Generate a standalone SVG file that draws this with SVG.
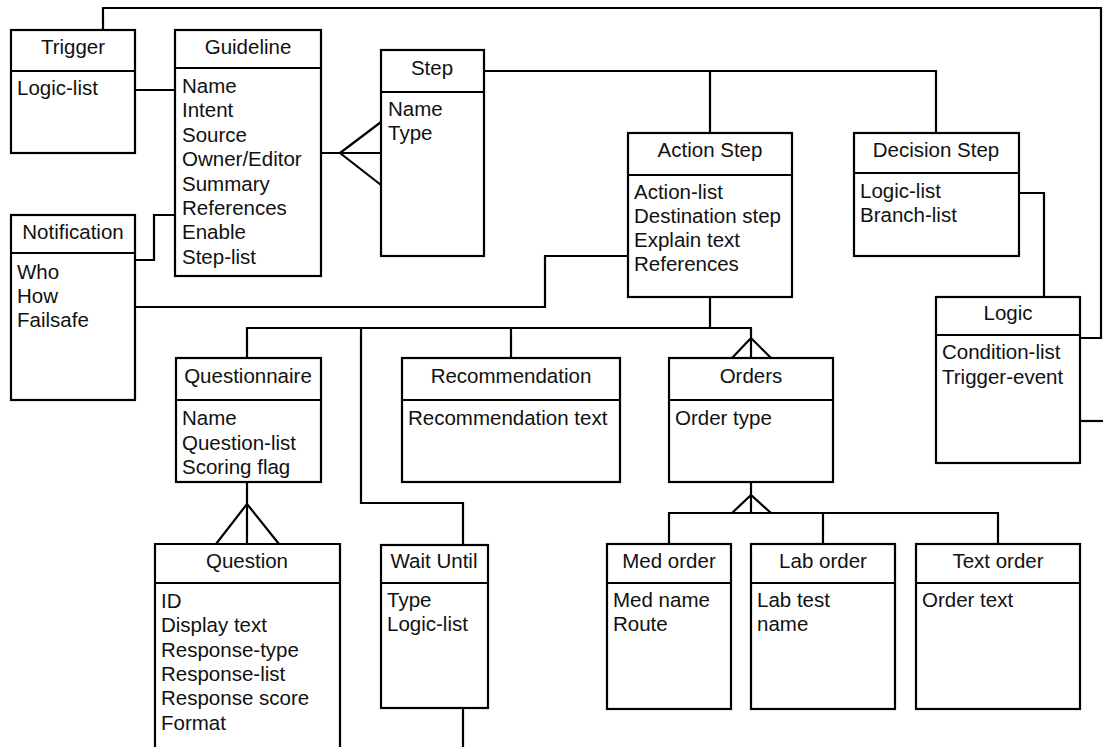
<svg xmlns="http://www.w3.org/2000/svg" width="1103" height="747" viewBox="0 0 1103 747">
<style>
.box{fill:#fff;stroke:#000;stroke-width:2.2}
.div{stroke:#000;stroke-width:2.2}
.c{fill:none;stroke:#000;stroke-width:2.2;stroke-linejoin:miter}
text{font-family:"Liberation Sans",Arial,sans-serif;font-size:20.5px;fill:#111}
.h{text-anchor:middle}
</style>
<rect width="1103" height="747" fill="#fff"/>
<g id="connectors">
<path class="c" d="M103,30 V8 H1101 V338 H1080"/>
<path class="c" d="M135,90 H175"/>
<path class="c" d="M135,260 H154 V215 H175"/>
<path class="c" d="M321,153 H381 M340,153 L381,122 M340,153 L381,185"/>
<path class="c" d="M484,71 H936 V133 M710,71 V133"/>
<path class="c" d="M135,307 H545 V256 H628"/>
<path class="c" d="M1019,193 H1044 V297"/>
<path class="c" d="M1080,421 H1103"/>
<path class="c" d="M710,297 V328 M247,358 V328 H751 V358 M732,358 L751,338 L771,358"/>
<path class="c" d="M361,328 V503 H463 V545 M511,328 V358"/>
<path class="c" d="M247,482 V544 M216,544 L247,504 L279,544"/>
<path class="c" d="M751,482 V513 M732,513 L751,495 L771,513 M669,545 V513 H998 V545 M823,513 V545"/>
<path class="c" d="M463,708 V747"/>
</g>
<g id="trigger">
<rect class="box" x="11" y="30" width="124" height="123"/>
<line class="div" x1="11" y1="71" x2="135" y2="71"/>
<text class="h" x="73" y="54">Trigger</text>
<text x="17" y="95">Logic-list</text>
</g>
<g id="guideline">
<rect class="box" x="175" y="30" width="146" height="246"/>
<line class="div" x1="175" y1="68" x2="321" y2="68"/>
<text class="h" x="248" y="54">Guideline</text>
<text x="182" y="93">Name</text>
<text x="182" y="117">Intent</text>
<text x="182" y="142">Source</text>
<text x="182" y="166">Owner/Editor</text>
<text x="182" y="191">Summary</text>
<text x="182" y="215">References</text>
<text x="182" y="239">Enable</text>
<text x="182" y="264">Step-list</text>
</g>
<g id="notification">
<rect class="box" x="11" y="215" width="124" height="185"/>
<line class="div" x1="11" y1="253" x2="135" y2="253"/>
<text class="h" x="73" y="239">Notification</text>
<text x="17" y="279">Who</text>
<text x="17" y="303">How</text>
<text x="17" y="327">Failsafe</text>
</g>
<g id="step">
<rect class="box" x="381" y="50" width="103" height="206"/>
<line class="div" x1="381" y1="92" x2="484" y2="92"/>
<text class="h" x="432" y="75">Step</text>
<text x="388" y="116">Name</text>
<text x="388" y="140">Type</text>
</g>
<g id="action-step">
<rect class="box" x="628" y="133" width="164" height="164"/>
<line class="div" x1="628" y1="175" x2="792" y2="175"/>
<text class="h" x="710" y="157">Action Step</text>
<text x="634" y="199">Action-list</text>
<text x="634" y="223">Destination step</text>
<text x="634" y="247">Explain text</text>
<text x="634" y="271">References</text>
</g>
<g id="decision-step">
<rect class="box" x="854" y="133" width="165" height="123"/>
<line class="div" x1="854" y1="173" x2="1019" y2="173"/>
<text class="h" x="936" y="157">Decision Step</text>
<text x="860" y="198">Logic-list</text>
<text x="860" y="222">Branch-list</text>
</g>
<g id="logic">
<rect class="box" x="936" y="297" width="144" height="166"/>
<line class="div" x1="936" y1="335" x2="1080" y2="335"/>
<text class="h" x="1008" y="320">Logic</text>
<text x="942" y="359">Condition-list</text>
<text x="942" y="384">Trigger-event</text>
</g>
<g id="questionnaire">
<rect class="box" x="176" y="358" width="145" height="124"/>
<line class="div" x1="176" y1="400" x2="321" y2="400"/>
<text class="h" x="248" y="383">Questionnaire</text>
<text x="182" y="425">Name</text>
<text x="182" y="450">Question-list</text>
<text x="182" y="474">Scoring flag</text>
</g>
<g id="recommendation">
<rect class="box" x="402" y="358" width="218" height="124"/>
<line class="div" x1="402" y1="400" x2="620" y2="400"/>
<text class="h" x="511" y="383">Recommendation</text>
<text x="408" y="425">Recommendation text</text>
</g>
<g id="orders">
<rect class="box" x="669" y="358" width="164" height="124"/>
<line class="div" x1="669" y1="400" x2="833" y2="400"/>
<text class="h" x="751" y="383">Orders</text>
<text x="675" y="425">Order type</text>
</g>
<g id="question">
<path class="c" d="M155,749 V544 H340 V749"/>
<line class="div" x1="155" y1="583" x2="340" y2="583"/>
<text class="h" x="247" y="568">Question</text>
<text x="161" y="608">ID</text>
<text x="161" y="632">Display text</text>
<text x="161" y="657">Response-type</text>
<text x="161" y="681">Response-list</text>
<text x="161" y="705">Response score</text>
<text x="161" y="730">Format</text>
</g>
<g id="wait-until">
<rect class="box" x="381" y="545" width="107" height="163"/>
<line class="div" x1="381" y1="583" x2="488" y2="583"/>
<text class="h" x="434" y="568">Wait Until</text>
<text x="387" y="607">Type</text>
<text x="387" y="631">Logic-list</text>
</g>
<g id="med-order">
<rect class="box" x="607" y="544" width="124" height="165"/>
<line class="div" x1="607" y1="583" x2="731" y2="583"/>
<text class="h" x="669" y="568">Med order</text>
<text x="613" y="607">Med name</text>
<text x="613" y="631">Route</text>
</g>
<g id="lab-order">
<rect class="box" x="751" y="544" width="144" height="165"/>
<line class="div" x1="751" y1="583" x2="895" y2="583"/>
<text class="h" x="823" y="568">Lab order</text>
<text x="757" y="607">Lab test</text>
<text x="757" y="631">name</text>
</g>
<g id="text-order">
<rect class="box" x="916" y="544" width="164" height="165"/>
<line class="div" x1="916" y1="583" x2="1080" y2="583"/>
<text class="h" x="998" y="568">Text order</text>
<text x="922" y="607">Order text</text>
</g>
</svg>
